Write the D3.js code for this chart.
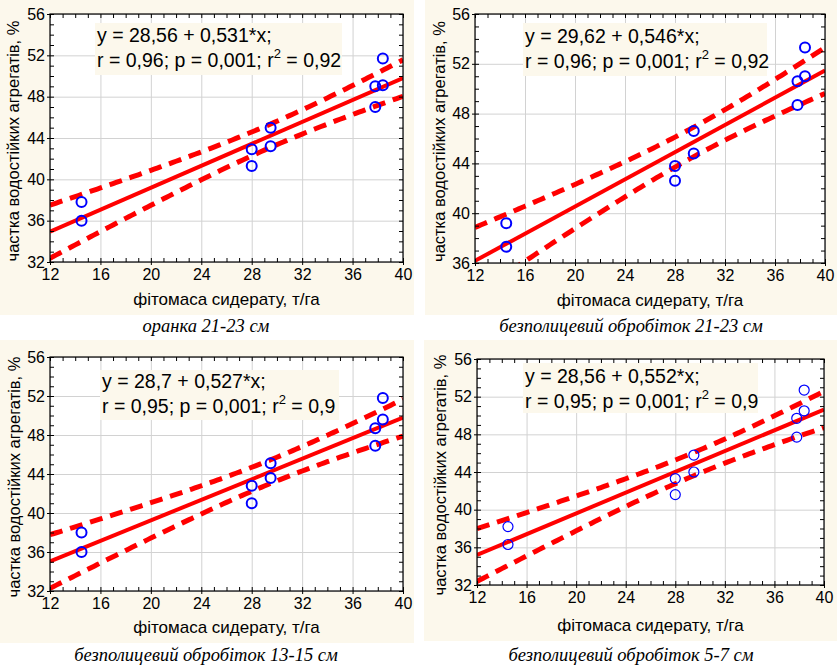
<!DOCTYPE html>
<html>
<head>
<meta charset="utf-8">
<script src="https://cdn.jsdelivr.net/npm/d3@7"></script>
<style>
  body { margin: 0; background: #fff; }
  text { font-family: "Liberation Sans", Arial, sans-serif; }
</style>
</head>
<body>
<svg id="chart"></svg>
<script>
const width = 837;
const height = 667;

// data
const xValues = [14.5, 14.5, 28, 28, 29.5, 29.5, 37.8, 37.8, 38.4, 38.4];
const yOranka2123 = [37.8, 36.0, 42.9, 41.3, 45.0, 43.2, 49.0, 47.0, 51.7, 49.1];
const yBezpol2123 = [39.2, 37.3, 43.8, 42.6, 46.6, 44.8, 50.6, 48.7, 53.3, 51.0];
const yBezpol1315 = [38.0, 36.0, 42.8, 41.0, 45.1, 43.6, 48.7, 46.9, 51.8, 49.6];
const yBezpol57 = [38.2, 36.3, 43.3, 41.6, 45.8, 44.0, 49.7, 47.7, 52.7, 50.5];

const intercepts = [28.56, 29.62, 28.7, 28.56];
const slopes = [0.531, 0.546, 0.527, 0.552];
const interceptTexts = ["28,56", "29,62", "28,7", "28,56"];
const slopeTexts = ["0,531", "0,546", "0,527", "0,552"];
const rTexts = ["0,96", "0,96", "0,95", "0,95"];
const pTexts = ["0,001", "0,001", "0,001", "0,001"];
const r2Texts = ["0,92", "0,92", "0,9", "0,9"];
const captions = [
  "оранка 21-23 см",
  "безполицевий обробіток 21-23 см",
  "безполицевий обробіток 13-15 см",
  "безполицевий обробіток 5-7 см"
];
const xTicks = [12, 16, 20, 24, 28, 32, 36, 40];
const yTicksFrom32 = [32, 36, 40, 44, 48, 52, 56];
const yTicksFrom36 = [36, 40, 44, 48, 52, 56];
const xTitle = "фітомаса сидерату, т/га";
const yTitle = "частка водостійких агрегатів, %";

const tCrit = 2.306; // t(0.975, df = 8)

// layout of the four panels
const panels = [
  { ys: yOranka2123, yTicks: yTicksFrom32, bg: [0, 0, 414, 315], plot: [50, 403, 14, 262],
    box: [95, 23, 247, 52], base: 42, yTitleX: 19, xTitleY: 305, capX: 206, capY: 332, ring: 2 },
  { ys: yBezpol2123, yTicks: yTicksFrom36, bg: [425, 0, 412, 315], plot: [475, 825, 14, 263],
    box: [523, 23, 244, 53], base: 43, yTitleX: 445, xTitleY: 306, capX: 631, capY: 332, ring: 2 },
  { ys: yBezpol1315, yTicks: yTicksFrom32, bg: [0, 340, 414, 303], plot: [50, 403, 357, 591],
    box: [100, 370, 239, 50], base: 388, yTitleX: 20, xTitleY: 633, capX: 206, capY: 661, ring: 2 },
  { ys: yBezpol57, yTicks: yTicksFrom32, bg: [424, 340, 413, 301], plot: [477, 824, 359, 585],
    box: [523, 363, 235, 50], base: 383, yTitleX: 446, xTitleY: 631, capX: 631, capY: 661, ring: 1.2 }
];

const svg = d3.select("#chart")
    .attr("width", width)
    .attr("height", height);

panels.forEach((p, i) => {
  const [l, r, t, b] = p.plot;
  const x = d3.scaleLinear().domain([12, 40]).range([l, r]);
  const y = d3.scaleLinear().domain([p.yTicks[0], 56]).range([b, t]);
  const g = svg.append("g");

  g.append("rect")
      .attr("x", p.bg[0]).attr("y", p.bg[1])
      .attr("width", p.bg[2]).attr("height", p.bg[3])
      .attr("fill", "#fcf8ec");

  g.append("rect")
      .attr("x", l).attr("y", t)
      .attr("width", r - l).attr("height", b - t)
      .attr("fill", "#fff");

  // grid
  g.append("g")
      .attr("transform", `translate(0,${b})`)
      .call(d3.axisBottom(x).tickValues(xTicks).tickSize(-(b - t)).tickFormat(""))
      .call(a => a.select(".domain").remove())
      .selectAll("line").attr("stroke", "#d2d2d2");
  g.append("g")
      .attr("transform", `translate(${l},0)`)
      .call(d3.axisLeft(y).tickValues(p.yTicks).tickSize(-(r - l)).tickFormat(""))
      .call(a => a.select(".domain").remove())
      .selectAll("line").attr("stroke", "#d2d2d2");

  // regression line and 95% confidence band
  const a0 = intercepts[i], a1 = slopes[i];
  const n = xValues.length;
  const xMean = d3.mean(xValues);
  const sxx = d3.sum(xValues, v => (v - xMean) ** 2);
  const sse = d3.sum(xValues, (v, k) => (p.ys[k] - (a0 + a1 * v)) ** 2);
  const s = Math.sqrt(sse / (n - 2));
  const half = v => tCrit * s * Math.sqrt(1 / n + (v - xMean) ** 2 / sxx);
  const xs = d3.range(12, 40.001, 0.25);

  const clipId = `clip${i}`;
  g.append("clipPath").attr("id", clipId)
    .append("rect")
      .attr("x", l).attr("y", t)
      .attr("width", r - l).attr("height", b - t);

  const lines = g.append("g").attr("clip-path", `url(#${clipId})`);
  const band = sign => d3.line()
      .x(v => x(v))
      .y(v => y(a0 + a1 * v + sign * half(v)))(xs);

  [1, -1].forEach(sign => {
    lines.append("path")
        .attr("d", band(sign))
        .attr("fill", "none")
        .attr("stroke", "#ff0000")
        .attr("stroke-width", 5)
        .attr("stroke-dasharray", "13,8");
  });

  lines.append("line")
      .attr("x1", x(12)).attr("y1", y(a0 + a1 * 12))
      .attr("x2", x(40)).attr("y2", y(a0 + a1 * 40))
      .attr("stroke", "#ff0000")
      .attr("stroke-width", 4);

  g.selectAll(".pt")
    .data(xValues)
    .join("circle")
      .attr("cx", v => x(v))
      .attr("cy", (v, k) => y(p.ys[k]))
      .attr("r", 5)
      .attr("fill", "none")
      .attr("stroke", "#0000ff")
      .attr("stroke-width", p.ring);

  // minor ticks on all four sides, pointing in
  const minorX = d3.range(12, 41, 1);
  const minorY = d3.range(p.yTicks[0], 57, 1);
  const tickStyle = sel => sel.call(a => a.select(".domain").remove())
      .selectAll("line").attr("stroke", "#000");
  g.append("g").attr("transform", `translate(0,${b})`)
      .call(d3.axisBottom(x).tickValues(minorX).tickSize(-4).tickFormat("")).call(tickStyle);
  g.append("g").attr("transform", `translate(0,${t})`)
      .call(d3.axisTop(x).tickValues(minorX).tickSize(-4).tickFormat("")).call(tickStyle);
  g.append("g").attr("transform", `translate(${l},0)`)
      .call(d3.axisLeft(y).tickValues(minorY).tickSize(-4).tickFormat("")).call(tickStyle);
  g.append("g").attr("transform", `translate(${r},0)`)
      .call(d3.axisRight(y).tickValues(minorY).tickSize(-4).tickFormat("")).call(tickStyle);

  // labelled axes
  const xAxis = g.append("g")
      .attr("transform", `translate(0,${b})`)
      .call(d3.axisBottom(x).tickValues(xTicks).tickSize(3).tickPadding(4));
  const yAxis = g.append("g")
      .attr("transform", `translate(${l},0)`)
      .call(d3.axisLeft(y).tickValues(p.yTicks).tickSize(3).tickPadding(2));
  [xAxis, yAxis].forEach(ax => {
    ax.select(".domain").remove();
    ax.selectAll("line").attr("stroke", "#000");
    ax.selectAll("text")
        .attr("fill", "#000")
        .style("font-family", '"Liberation Sans", Arial, sans-serif')
        .style("font-size", "16px");
  });

  g.append("rect")
      .attr("x", l).attr("y", t)
      .attr("width", r - l).attr("height", b - t)
      .attr("fill", "none")
      .attr("stroke", "#000")
      .attr("stroke-width", 1.2);

  // equation box
  g.append("rect")
      .attr("x", p.box[0]).attr("y", p.box[1])
      .attr("width", p.box[2]).attr("height", p.box[3])
      .attr("fill", "#fcf8ec");
  const tx = p.box[0] + 2;
  g.append("text")
      .attr("x", tx).attr("y", p.base)
      .attr("font-size", 19.5)
      .text(`y = ${interceptTexts[i]} + ${slopeTexts[i]}*x;`);
  const eq2 = g.append("text")
      .attr("x", tx).attr("y", p.base + 25)
      .attr("font-size", 19.5);
  eq2.append("tspan").text(`r = ${rTexts[i]}; p = ${pTexts[i]}; r`);
  eq2.append("tspan").attr("dy", -9).attr("font-size", 13).text("2");
  eq2.append("tspan").attr("dy", 9).text(` = ${r2Texts[i]}`);

  // titles
  g.append("text")
      .attr("x", (l + r) / 2).attr("y", p.xTitleY)
      .attr("text-anchor", "middle")
      .attr("font-size", 17)
      .text(xTitle);
  g.append("text")
      .attr("transform", `translate(${p.yTitleX},${(t + b) / 2 + 3}) rotate(-90)`)
      .attr("text-anchor", "middle")
      .attr("font-size", 16.5)
      .text(yTitle);
  g.append("text")
      .attr("x", p.capX).attr("y", p.capY)
      .attr("text-anchor", "middle")
      .style("font-family", '"Liberation Serif", "Times New Roman", serif')
      .style("font-style", "italic")
      .attr("font-size", 18.5)
      .text(captions[i]);
});
</script>
</body>
</html>
